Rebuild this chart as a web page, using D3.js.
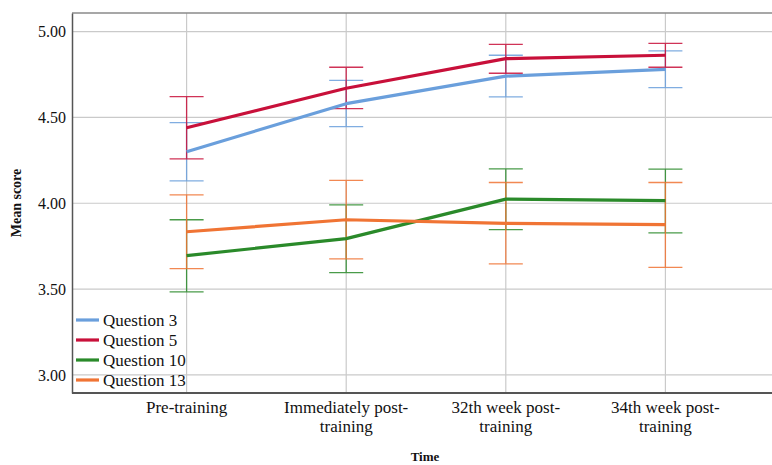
<!DOCTYPE html>
<html>
<head>
<meta charset="utf-8">
<script src="https://cdn.jsdelivr.net/npm/d3@7"></script>
<style>
  html, body { margin: 0; padding: 0; background: #fff; }
  svg { display: block; }
  svg text { font-family: "Liberation Serif", "Times New Roman", "DejaVu Serif", serif; fill: #111; }
</style>
</head>
<body>
<svg id="chart" width="772" height="465"></svg>
<script>
const categories = ["Pre-training", "Immediately post-training", "32th week post-training", "34th week post-training"];
const categoryLines = [["Pre-training"], ["Immediately post-", "training"], ["32th week post-", "training"], ["34th week post-", "training"]];
const seriesNames = ["Question 3", "Question 5", "Question 10", "Question 13"];
const seriesColors = ["#6a9fdc", "#c8103a", "#2a8a2a", "#f07434"];
const q3Mean = [4.30, 4.58, 4.74, 4.78];
const q3Low  = [4.13, 4.446, 4.619, 4.673];
const q3High = [4.47, 4.716, 4.862, 4.888];
const q5Mean = [4.44, 4.67, 4.842, 4.862];
const q5Low  = [4.259, 4.551, 4.757, 4.792];
const q5High = [4.621, 4.792, 4.925, 4.931];
const q10Mean = [3.695, 3.794, 4.024, 4.015];
const q10Low  = [3.484, 3.596, 3.846, 3.828];
const q10High = [3.904, 3.99, 4.20, 4.199];
const q13Mean = [3.834, 3.904, 3.883, 3.875];
const q13Low  = [3.619, 3.676, 3.647, 3.627];
const q13High = [4.049, 4.133, 4.121, 4.121];
const yTicks = [3.00, 3.50, 4.00, 4.50, 5.00];

const series = [
  {name: seriesNames[0], color: seriesColors[0], mean: q3Mean, low: q3Low, high: q3High},
  {name: seriesNames[1], color: seriesColors[1], mean: q5Mean, low: q5Low, high: q5High},
  {name: seriesNames[2], color: seriesColors[2], mean: q10Mean, low: q10Low, high: q10High},
  {name: seriesNames[3], color: seriesColors[3], mean: q13Mean, low: q13Low, high: q13High}
];

const svg = d3.select("#chart");
const pLeft = 72, pTop = 13, pBottom = 393, pRight = 780;

const x = d3.scalePoint().domain(categories).range([pLeft, pRight]).padding(0.718);
const y = d3.scaleLinear().domain([2.895, 5.108]).range([pBottom, pTop]);

// gridlines
const grid = svg.append("g");
grid.selectAll("line.h").data(yTicks).join("line")
  .attr("x1", pLeft).attr("x2", 772)
  .attr("y1", d => y(d)).attr("y2", d => y(d))
  .attr("stroke", "#cacaca").attr("stroke-width", 1.2);
grid.selectAll("line.v").data(categories).join("line")
  .attr("x1", d => x(d)).attr("x2", d => x(d))
  .attr("y1", pTop).attr("y2", pBottom)
  .attr("stroke", "#cacaca").attr("stroke-width", 1.2);

// frame
svg.append("line").attr("x1", pLeft).attr("x2", 772).attr("y1", pTop).attr("y2", pTop)
  .attr("stroke", "#8a8a8a").attr("stroke-width", 1.5);

// y axis
const yAxis = svg.append("g").attr("transform", `translate(${pLeft},0)`)
  .call(d3.axisLeft(y).tickValues(yTicks).tickFormat(d3.format(".2f")).tickSize(0).tickPadding(6));
yAxis.attr("font-family", null);
yAxis.select(".domain").attr("stroke", "#555").attr("stroke-width", 1.5);
yAxis.selectAll("text").attr("font-size", 16).attr("fill", "#111").attr("dy", "0.34em");

// x axis
const xAxis = svg.append("g").attr("transform", `translate(0,${pBottom})`)
  .call(d3.axisBottom(x).tickSize(0).tickFormat(""));
xAxis.attr("font-family", null);
xAxis.select(".domain").attr("d", `M${pLeft},0H772`).attr("stroke", "#555").attr("stroke-width", 2);
categories.forEach((c, i) => {
  categoryLines[i].forEach((ln, j) => {
    svg.append("text").attr("x", x(c)).attr("y", 413 + j * 19)
      .attr("text-anchor", "middle").attr("font-size", 17).text(ln);
  });
});

// axis titles
svg.append("text").attr("x", 425).attr("y", 461).attr("text-anchor", "middle")
  .attr("font-size", 13).attr("font-weight", "bold").text("Time");
svg.append("text").attr("transform", `translate(21,${(pTop + pBottom) / 2}) rotate(-90)`)
  .attr("text-anchor", "middle").attr("font-size", 14).attr("font-weight", "bold").text("Mean score");

// error bars
const capW = 17;
series.forEach(s => {
  const g = svg.append("g").attr("stroke", s.color).attr("stroke-width", 1.3).attr("opacity", 0.85);
  categories.forEach((c, i) => {
    const cx = x(c);
    g.append("line").attr("x1", cx).attr("x2", cx).attr("y1", y(s.low[i])).attr("y2", y(s.high[i]));
    g.append("line").attr("x1", cx - capW).attr("x2", cx + capW).attr("y1", y(s.low[i])).attr("y2", y(s.low[i]));
    g.append("line").attr("x1", cx - capW).attr("x2", cx + capW).attr("y1", y(s.high[i])).attr("y2", y(s.high[i]));
  });
});

// lines
const line = d3.line().x((d, i) => x(categories[i])).y(d => y(d));
series.forEach(s => {
  svg.append("path").datum(s.mean).attr("d", line)
    .attr("fill", "none").attr("stroke", s.color).attr("stroke-width", 3.2)
    .attr("stroke-linejoin", "round");
});

// legend
const legend = svg.append("g");
series.forEach((s, i) => {
  const ly = 320 + i * 20;
  legend.append("line").attr("x1", 76).attr("x2", 99).attr("y1", ly).attr("y2", ly)
    .attr("stroke", s.color).attr("stroke-width", 3.2);
  legend.append("text").attr("x", 103).attr("y", ly + 6).attr("font-size", 17).text(s.name);
});
</script>
</body>
</html>
